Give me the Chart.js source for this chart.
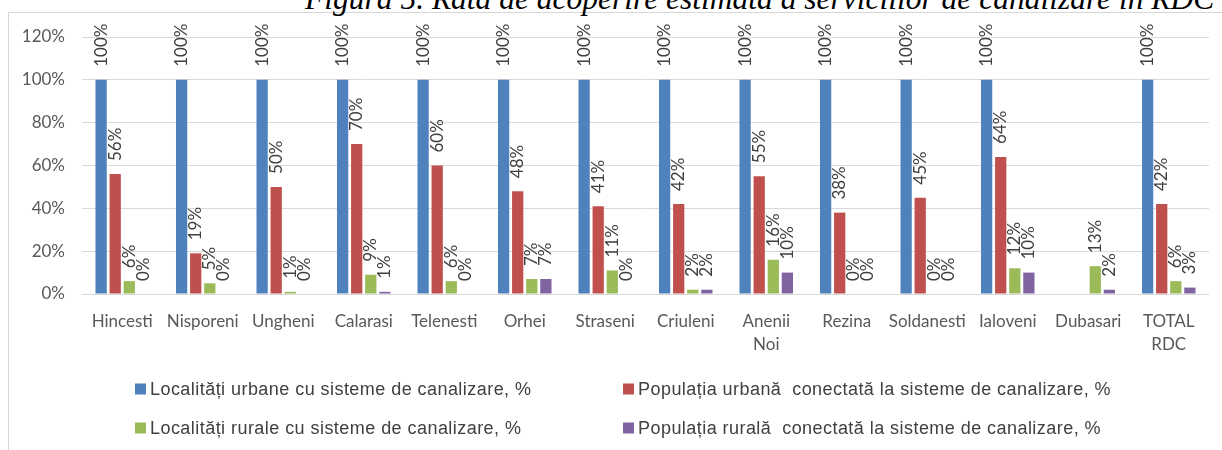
<!DOCTYPE html>
<html>
<head>
<meta charset="utf-8">
<script src="https://cdn.jsdelivr.net/npm/chart.js@4.4.1/dist/chart.umd.min.js"></script>
<style>
  html, body { margin: 0; padding: 0; background: #fff; }
  #wrap { position: relative; width: 1222px; height: 450px; overflow: hidden; background: #fff; }
  #frame { position: absolute; left: 8px; top: 12px; width: 1400px; height: 600px; border: 1px solid #d6d6d6; box-sizing: border-box; }
  #title { position: absolute; left: 305px; top: -17px; white-space: nowrap; font-family: "Liberation Serif", "DejaVu Serif", serif; font-style: italic; font-size: 31.5px; line-height: 31.5px; color: #000; }
  canvas { position: absolute; left: 0; top: 0; }
</style>
</head>
<body>
<div id="wrap">
  <div id="frame"></div>
  <div id="title">Figura 5. Rata de acoperire estimată a serviciilor de canalizare în RDC</div>
  <canvas id="c" width="1222" height="450"></canvas>
</div>
<script>
const categories = [["Hincesti"], ["Nisporeni"], ["Ungheni"], ["Calarasi"], ["Telenesti"], ["Orhei"], ["Straseni"], ["Criuleni"], ["Anenii", "Noi"], ["Rezina"], ["Soldanesti"], ["Ialoveni"], ["Dubasari"], ["TOTAL", "RDC"]];
const seriesNames = [
  "Localități urbane cu sisteme de canalizare, %",
  "Populația urbană  conectată la sisteme de canalizare, %",
  "Localități rurale cu sisteme de canalizare, %",
  "Populația rurală  conectată la sisteme de canalizare, %"
];
const urbanLocalities = [100, 100, 100, 100, 100, 100, 100, 100, 100, 100, 100, 100, null, 100];
const urbanPopulation = [56, 19, 50, 70, 60, 48, 41, 42, 55, 38, 45, 64, null, 42];
const ruralLocalities = [6, 5, 1, 9, 6, 7, 11, 2, 16, 0, 0, 12, 13, 6];
const ruralPopulation = [0, 0, 0, 1, 0, 7, 0, 2, 10, 0, 0, 10, 2, 3];
const yTicks = [0, 20, 40, 60, 80, 100, 120];

const colors = ["#4F81BD", "#C0504D", "#9BBB59", "#8064A2"];
const seriesValues = [urbanLocalities, urbanPopulation, ruralLocalities, ruralPopulation];

const TICK_FONT = "Lato, 'Open Sans', sans-serif";

const valueLabels = {
  id: "valueLabels",
  afterDatasetsDraw(chart) {
    const ctx = chart.ctx;
    ctx.save();
    ctx.font = "17px " + TICK_FONT;
    ctx.fillStyle = "#404040";
    ctx.textAlign = "left";
    ctx.textBaseline = "middle";
    chart.data.datasets.forEach((ds, di) => {
      const meta = chart.getDatasetMeta(di);
      meta.data.forEach((el, i) => {
        const v = ds.data[i];
        if (v === null || v === undefined) return;
        ctx.save();
        ctx.translate(el.x, el.y - 13);
        ctx.rotate(-Math.PI / 2);
        ctx.fillText(v + "%", 0, 0);
        ctx.restore();
      });
    });
    ctx.restore();
  }
};

const gridLegend = {
  id: "gridLegend",
  afterDraw(chart) {
    const ctx = chart.ctx;
    const cols = [135, 623];
    const rows = [389, 428];
    ctx.save();
    ctx.font = "18px 'Liberation Sans', Arial, sans-serif";
    ctx.textBaseline = "middle";
    ctx.textAlign = "left";
    if ('letterSpacing' in ctx) ctx.letterSpacing = "0.45px";
    chart.data.datasets.forEach((ds, i) => {
      const x = cols[i % 2], y = rows[Math.floor(i / 2)];
      ctx.fillStyle = ds.backgroundColor;
      ctx.fillRect(x, y - 5.5, 11, 11);
      ctx.fillStyle = "#404040";
      ctx.fillText(ds.label, x + 15, y + 1);
    });
    ctx.restore();
  }
};

new Chart(document.getElementById("c"), {
  type: "bar",
  data: {
    labels: categories,
    datasets: seriesValues.map((vals, i) => ({
      label: seriesNames[i],
      data: vals,
      backgroundColor: colors[i],
      borderWidth: 0,
      categoryPercentage: 0.7,
      barPercentage: 0.8
    }))
  },
  options: {
    responsive: false,
    devicePixelRatio: 1,
    animation: false,
    layout: { padding: { top: 37, right: 13, bottom: 100, left: 0 } },
    plugins: { legend: { display: false }, tooltip: { enabled: false }, title: { display: false } },
    scales: {
      x: {
        grid: { display: false, drawTicks: false },
        border: { display: false },
        ticks: { color: "#595959", font: { family: TICK_FONT, size: 17, lineHeight: 1.35 }, padding: 16, maxRotation: 0, autoSkip: false },
        afterFit(s) { s.height = 56; }
      },
      y: {
        min: 0, max: 120,
        afterBuildTicks(s) { s.ticks = yTicks.map(v => ({ value: v })); },
        grid: { color: "#d9d9d9", lineWidth: 1, drawTicks: false },
        border: { display: false },
        ticks: { color: "#595959", font: { family: TICK_FONT, size: 17 }, padding: 17, callback: v => v + "%" },
        afterFit(s) { s.width = 82; }
      }
    }
  },
  plugins: [valueLabels, gridLegend]
});
</script>
</body>
</html>
